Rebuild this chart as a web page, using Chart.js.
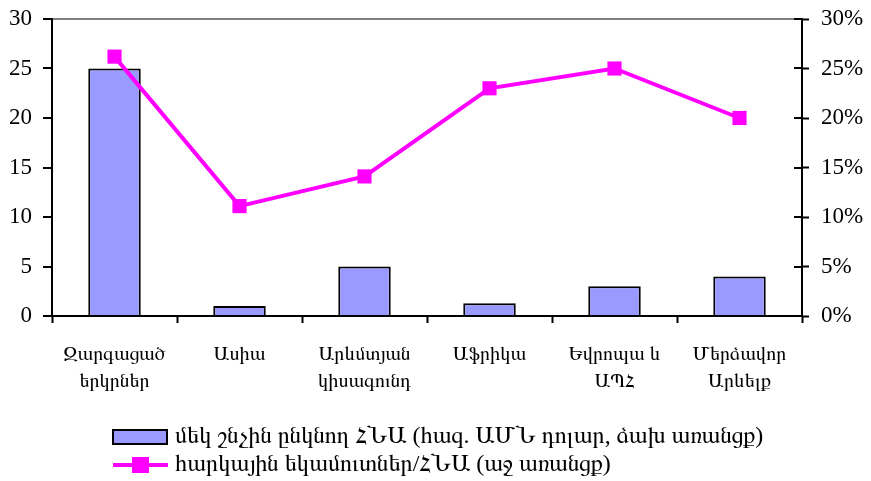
<!DOCTYPE html>
<html>
<head>
<meta charset="utf-8">
<script src="https://cdn.jsdelivr.net/npm/chart.js@4/dist/chart.umd.min.js"></script>
<style>
  html, body { margin:0; padding:0; background:#fff; }
  #wrap { width:871px; height:481px; }
</style>
</head>
<body>
<div id="wrap"><canvas id="c" width="871" height="481"></canvas></div>
<script>
// regions (two-line tick labels)
const regions = [
  ['Զարգացած', 'երկրներ'],
  ['Ասիա'],
  ['Արևմտյան', 'կիսագունդ'],
  ['Աֆրիկա'],
  ['Եվրոպա և', 'ԱՊՀ'],
  ['Մերձավոր', 'Արևելք']
];
const gdpPerCapita = [25, 1, 5, 1.3, 3, 4];          // left axis, thousand USD
const taxShare = [26.2, 11.1, 14.1, 23.0, 25.0, 20.0]; // right axis, %
const barLabel = 'մեկ շնչին ընկնող ՀՆԱ (հազ. ԱՄՆ դոլար, ձախ առանցք)';
const lineLabel = 'հարկային եկամուտներ/ՀՆԱ (աջ առանցք)';

const SERIF = '"Liberation Serif", FreeSerif, "DejaVu Serif", serif';
Chart.defaults.font.family = SERIF;
Chart.defaults.color = '#000';

const BAR_FILL = '#9999ff';
const MAGENTA = '#ff00ff';

// legend + inner ticks on the right axis
const extras = {
  id: 'extras',
  afterDraw(chart){
    const ctx = chart.ctx;
    const y1 = chart.scales.y1;
    ctx.save();
    ctx.strokeStyle = '#000';
    ctx.lineWidth = 2;
    y1.ticks.forEach((t, i) => {
      const y = Math.round(y1.getPixelForTick(i));
      ctx.beginPath();
      ctx.moveTo(y1.left - 8, y);
      ctx.lineTo(y1.left, y);
      ctx.stroke();
    });

    ctx.font = '24px ' + SERIF;
    ctx.textBaseline = 'middle';
    ctx.textAlign = 'left';

    // bar legend item
    ctx.fillStyle = BAR_FILL;
    ctx.fillRect(113, 430, 54, 14);
    ctx.strokeRect(113, 430, 54, 14);
    ctx.fillStyle = '#000';
    ctx.fillText(chart.data.datasets[0].label, 175, 437);

    // line legend item
    ctx.strokeStyle = MAGENTA;
    ctx.lineWidth = 4;
    ctx.beginPath();
    ctx.moveTo(113, 465);
    ctx.lineTo(168, 465);
    ctx.stroke();
    ctx.fillStyle = MAGENTA;
    ctx.fillRect(132, 457, 17, 16);
    ctx.fillStyle = '#000';
    ctx.fillText(chart.data.datasets[1].label, 175, 465);
    ctx.restore();
  }
};

function noPad(s){ s.paddingTop = 0; s.paddingBottom = 0; }

new Chart(document.getElementById('c'), {
  type: 'bar',
  data: {
    labels: regions,
    datasets: [
      {
        type: 'bar', label: barLabel, data: gdpPerCapita, yAxisID: 'y', order: 1,
        backgroundColor: BAR_FILL, borderColor: '#000', borderWidth: 2,
        categoryPercentage: 1, barPercentage: 0.42
      },
      {
        type: 'line', label: lineLabel, data: taxShare, yAxisID: 'y1', order: 0,
        borderColor: MAGENTA, borderWidth: 4, tension: 0,
        pointStyle: 'rect', pointRadius: 10, pointBackgroundColor: MAGENTA,
        pointBorderColor: MAGENTA, pointBorderWidth: 0
      }
    ]
  },
  options: {
    responsive: false,
    animation: false,
    layout: { padding: { top: 19, left: 0, right: 0, bottom: 0 } },
    plugins: { legend: { display: false }, tooltip: { enabled: false } },
    scales: {
      x: {
        offset: true,
        grid: { offset: true, drawOnChartArea: false, tickLength: 7, tickColor: '#000', tickWidth: 2 },
        border: { color: '#000', width: 2 },
        ticks: { font: { size: 20, lineHeight: 1.35 }, padding: 18, maxRotation: 0, autoSkip: false },
        afterFit(s){ s.height = 165; }
      },
      y: {
        position: 'left', min: 0, max: 30,
        ticks: { stepSize: 5, font: { size: 23 }, padding: 11 },
        grid: {
          color: c => c.tick.value === 30 ? '#808080' : 'transparent',
          lineWidth: 2, tickColor: '#000', tickWidth: 2, tickLength: 9
        },
        border: { color: '#000', width: 2 },
        afterFit(s){ s.width = 52; noPad(s); }
      },
      y1: {
        position: 'right', min: 0, max: 30,
        ticks: { stepSize: 5, font: { size: 23 }, padding: 12, callback: v => v + '%' },
        grid: { drawOnChartArea: false, tickColor: '#000', tickWidth: 2, tickLength: 7 },
        border: { color: '#000', width: 2 },
        afterFit(s){ s.width = 69; noPad(s); }
      }
    }
  },
  plugins: [extras]
});
</script>
</body>
</html>
